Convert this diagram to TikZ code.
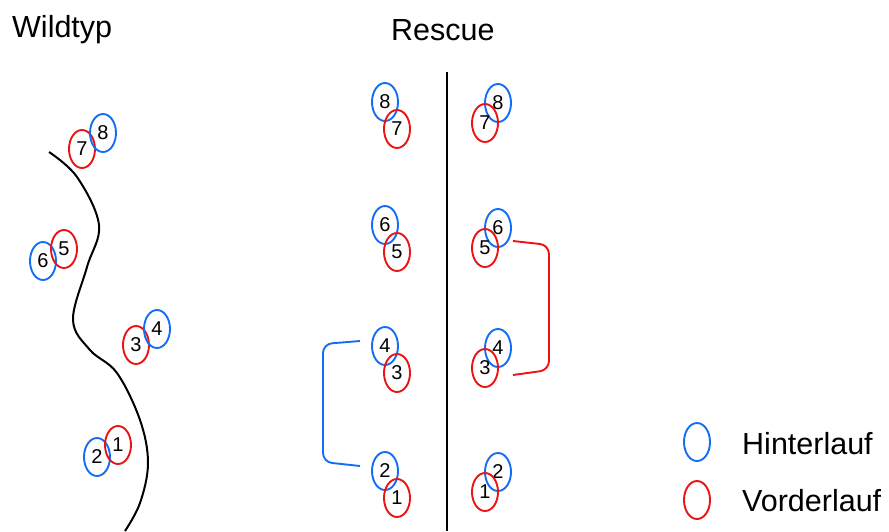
\documentclass[tikz,border=0pt]{standalone}
\usepackage{fontspec}
\setmainfont{Liberation Sans}
\usetikzlibrary{shapes.geometric}
\definecolor{hblue}{RGB}{20,110,245}
\definecolor{vred}{RGB}{235,20,20}
\tikzset{
  paw/.style={ellipse, draw, line width=1.9pt, minimum width=26pt, minimum height=38pt, inner sep=0pt, font=\fontsize{20}{20}\selectfont, text=black},
  hl/.style={paw, draw=hblue},
  vl/.style={paw, draw=vred},
  title/.style={font=\fontsize{30.5}{30.5}\selectfont, anchor=west, inner sep=0pt},
  legtext/.style={font=\fontsize{30.5}{30.5}\selectfont, anchor=west, inner sep=0pt},
  bracket/.style={line width=1.9pt, rounded corners=9pt}
}
\begin{document}
\begin{tikzpicture}[x=1pt,y=-1pt]
\useasboundingbox (0,0) rectangle (889,531);
% titles
\node[title] (tw) at (12,30) {Wildtyp};
\node[title] (tr) at (391,30) {Rescue};
% wildtype trail
\draw[line width=2pt] plot[smooth, tension=0.6] coordinates {(49,152) (77,177) (99,225) (87,267) (73,320) (90,350) (117,373) (140,420) (148,463) (140,503) (125,531)};
% wildtype paws
\node[vl] (w7) at (82,149) {7};
\node[hl] (w8) at (103,133) {8};
\node[hl] (w6) at (43,261) {6};
\node[vl] (w5) at (64,249) {5};
\node[vl] (w3) at (136,345) {3};
\node[hl] (w4) at (157,329) {4};
\node[hl] (w2) at (97,457) {2};
\node[vl] (w1) at (118,445) {1};
% divider
\coordinate (dtop) at (447,72);
\coordinate (dbot) at (447,531);
\draw[line width=2pt] (dtop) -- (dbot);
% rescue left
\node[hl] (a8) at (385,102) {8};
\node[vl] (a7) at (397,129) {7};
\node[hl] (a6) at (385,225) {6};
\node[vl] (a5) at (397,252) {5};
\node[hl] (a4) at (385,346) {4};
\node[vl] (a3) at (397,373) {3};
\node[hl] (a2) at (385,471) {2};
\node[vl] (a1) at (397,498) {1};
% rescue right
\node[hl] (b8) at (498,103) {8};
\node[vl] (b7) at (485,123) {7};
\node[hl] (b6) at (498,228) {6};
\node[vl] (b5) at (485,248) {5};
\node[hl] (b4) at (498,348) {4};
\node[vl] (b3) at (485,368) {3};
\node[hl] (b2) at (498,472) {2};
\node[vl] (b1) at (485,492) {1};
% brackets
\coordinate (bs) at (360,341);
\coordinate (be) at (360,466);
\draw[bracket, draw=hblue] (bs) -- (323,344) -- (323,462) -- (be);
\coordinate (rs) at (513,241);
\coordinate (re) at (513,375);
\draw[bracket, draw=vred] (rs) -- (549,245) -- (549,370) -- (re);
% legend
\node[hl] (lh) at (697,442) {};
\node[vl] (lv) at (697,500) {};
\node[legtext] (th) at (742,444) {Hinterlauf};
\node[legtext] (tv) at (742,501) {Vorderlauf};
\end{tikzpicture}
\end{document}
